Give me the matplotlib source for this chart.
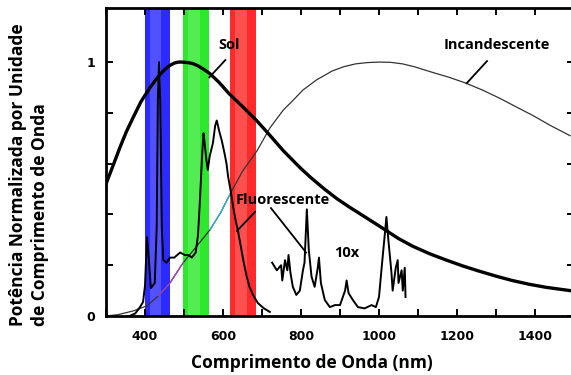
"""Espectros normalizados: Sol, incandescente e fluorescente (com bandas RGB)."""
import matplotlib
matplotlib.use("Agg")
import matplotlib.pyplot as plt
from matplotlib.ticker import MultipleLocator, FixedLocator

plt.rcParams.update({
    "font.family": ["Open Sans", "DejaVu Sans"],
    "font.weight": "bold",
    "axes.linewidth": 2.0,
})

# Sol (corpo negro, normalizado)
SOL_NM = [300, 320, 336, 352, 369, 390, 413, 435, 445, 456, 465, 475, 485,
          495, 510, 523, 535, 550, 566, 590, 616, 650, 686, 720, 754, 797,
          823, 860, 892, 925, 956, 1000, 1017, 1050, 1086, 1130, 1173, 1215,
          1256, 1300, 1341, 1385, 1428, 1490]
SOL_V = [0.52, 0.60, 0.665, 0.725, 0.78, 0.845, 0.90, 0.945, 0.962, 0.978,
         0.988, 0.996, 1.0, 1.0, 0.998, 0.994, 0.986, 0.972, 0.955, 0.92,
         0.875, 0.825, 0.77, 0.712, 0.652, 0.585, 0.548, 0.50, 0.462, 0.428,
         0.398, 0.355, 0.338, 0.305, 0.275, 0.245, 0.22, 0.197, 0.177, 0.157,
         0.14, 0.125, 0.113, 0.10]

# Incandescente
INC_NM = [300, 330, 370, 405, 435, 464, 498, 530, 567, 595, 618, 650, 687,
          720, 754, 780, 805, 840, 880, 910, 940, 970, 1000, 1030, 1060, 1090,
          1136, 1180, 1223, 1265, 1309, 1350, 1394, 1440, 1490]
INC_V = [0.0, 0.005, 0.02, 0.04, 0.08, 0.13, 0.21, 0.27, 0.34, 0.41, 0.48,
         0.57, 0.65, 0.74, 0.81, 0.85, 0.89, 0.93, 0.965, 0.982, 0.993, 0.998,
         1.0, 0.999, 0.993, 0.982, 0.96, 0.94, 0.917, 0.89, 0.858, 0.825,
         0.79, 0.75, 0.71]

# Fluorescente (visivel)
FLU_NM = [360, 375, 387, 395, 400, 405, 410, 415, 425, 430, 433, 436, 439,
          443, 447, 455, 464, 475, 490, 502, 512, 520, 530, 536, 541, 546,
          550, 553, 557, 561, 566, 574, 580, 584, 590, 597, 604, 609, 613,
          620, 626, 632, 639, 645, 652, 660, 668, 678, 690, 705, 720]
FLU_V = [0.0, 0.01, 0.035, 0.055, 0.12, 0.31, 0.22, 0.11, 0.13, 0.35, 0.85,
         1.0, 0.85, 0.35, 0.22, 0.21, 0.23, 0.23, 0.25, 0.24, 0.24, 0.23,
         0.25, 0.32, 0.46, 0.62, 0.72, 0.68, 0.62, 0.575, 0.63, 0.68, 0.75,
         0.77, 0.73, 0.69, 0.64, 0.60, 0.55, 0.49, 0.43, 0.38, 0.33, 0.28,
         0.22, 0.16, 0.114, 0.08, 0.05, 0.03, 0.016]

# Fluorescente infravermelho (ampliado 10x)
FLU10_NM = [726, 738, 749, 752, 759, 765, 768, 773, 779, 788, 797, 805, 809,
            815, 820, 827, 835, 843, 846, 851, 861, 874, 887, 900, 913, 917,
            922, 933, 946, 963, 981, 992, 1000, 1008, 1016, 1019, 1024, 1032,
            1035, 1043, 1048, 1050, 1058, 1061, 1066, 1068]
FLU10_V = [0.21, 0.18, 0.20, 0.14, 0.22, 0.18, 0.24, 0.17, 0.115, 0.083,
           0.10, 0.18, 0.21, 0.42, 0.26, 0.155, 0.115, 0.19, 0.23, 0.13,
           0.063, 0.035, 0.043, 0.043, 0.10, 0.14, 0.09, 0.063, 0.035, 0.03,
           0.043, 0.035, 0.075, 0.21, 0.34, 0.39, 0.30, 0.17, 0.10, 0.19,
           0.22, 0.13, 0.18, 0.10, 0.19, 0.075]

# bandas azul / verde / vermelho
BANDS = [(400, 465, "#2b2bff"), (497, 565, "#2ee82e"), (618, 685, "#ff2a2a")]

XTICKS = [400, 600, 800, 1000, 1200, 1400]


def main():
    fig = plt.figure(figsize=(5.71, 3.75), dpi=100)
    ax = fig.add_axes([106 / 571, 59 / 375, 468 / 571, 308 / 375])

    for lo, hi, col in BANDS:
        ax.axvspan(lo, hi, color=col, lw=0, zorder=1)
        w = hi - lo
        ax.axvspan(lo + 0.2 * w, hi - 0.35 * w, color="white", alpha=0.18,
                   lw=0, zorder=1.1)

    ax.plot(INC_NM, INC_V, color="#333333", lw=0.9, zorder=2)
    # trechos coloridos da incandescente na faixa visivel
    ax.plot(INC_NM[4:7], INC_V[4:7], color="#b040c0", lw=0.9, zorder=2.1)
    ax.plot(INC_NM[8:11], INC_V[8:11], color="#30b8d0", lw=0.9, zorder=2.1)
    ax.plot(SOL_NM, SOL_V, color="black", lw=2.4, zorder=4,
            solid_joinstyle="round")
    ax.plot(FLU_NM, FLU_V, color="black", lw=1.4, zorder=3)
    ax.plot(FLU10_NM, FLU10_V, color="black", lw=1.4, zorder=3)

    # rotulos e linhas de chamada
    tkw = dict(fontsize=10.5, fontweight="bold", ha="center", va="center",
               zorder=6)
    ax.text(616, 1.067, "Sol", **tkw)
    ax.plot([606, 565], [1.008, 0.94], color="black", lw=1.3, zorder=5)
    ax.text(1302, 1.067, "Incandescente", **tkw)
    ax.plot([1277, 1225], [1.004, 0.917], color="black", lw=1.3, zorder=5)
    ax.text(753, 0.455, "Fluorescente", **tkw)
    ax.plot([682, 636], [0.41, 0.335], color="black", lw=1.3, zorder=5)
    ax.plot([723, 813], [0.425, 0.25], color="black", lw=1.3, zorder=5)
    ax.text(918, 0.25, "10x", **tkw)

    ax.set_xlim(300, 1500)
    ax.set_ylim(0, 1.213)
    ax.xaxis.set_major_locator(FixedLocator(XTICKS))
    ax.xaxis.set_minor_locator(MultipleLocator(100))
    ax.yaxis.set_major_locator(FixedLocator([0, 1]))
    ax.yaxis.set_minor_locator(FixedLocator([0.2, 0.4, 0.6, 0.8]))
    ax.tick_params(which="both", direction="in", length=5, width=1.4,
                   top=True, right=True)
    ax.tick_params(axis="x", pad=10)
    ax.tick_params(axis="y", pad=8)
    for lab in ax.get_xticklabels() + ax.get_yticklabels():
        lab.set_family(["DejaVu Sans"])
        lab.set_fontweight("bold")
        lab.set_fontsize(9)

    ax.set_xlabel("Comprimento de Onda (nm)", fontsize=12.5,
                  fontweight="bold")
    ax.xaxis.set_label_coords(0.44, -0.125)
    fig.text(29 / 571, 1 - 175 / 375,
             "Potência Normalizada por Unidade\nde Comprimento de Onda",
             rotation=90, ha="center", va="center", multialignment="left",
             fontsize=12.5, fontweight="bold", linespacing=1.25)

    fig.savefig("out.png", dpi=100)
    plt.close(fig)


if __name__ == "__main__":
    main()
